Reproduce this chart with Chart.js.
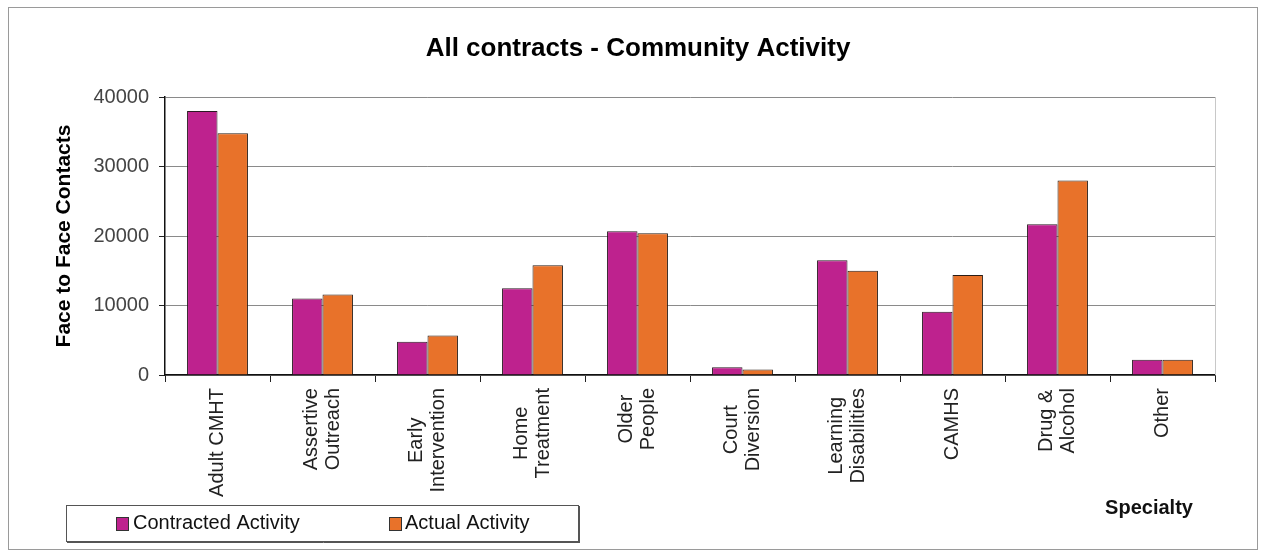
<!DOCTYPE html>
<html>
<head>
<meta charset="utf-8">
<script src="https://cdn.jsdelivr.net/npm/chart.js@4/dist/chart.umd.min.js"></script>
<style>
  html, body { margin: 0; padding: 0; background: #fff; }
  canvas { display: block; }
</style>
</head>
<body>
<canvas id="graf" width="1265" height="554"></canvas>
<script>
const specialties = [
    "Adult CMHT", ["Assertive", "Outreach"], ["Early", "Intervention"], ["Home", "Treatment"],
    ["Older", "People"], ["Court", "Diversion"], ["Learning", "Disabilities"], "CAMHS",
    ["Drug &", "Alcohol"], "Other"
];
const contracted = [38000, 11000, 4800, 12500, 20700, 1100, 16500, 9100, 21700, 2200];
const actual = [34800, 11600, 5700, 15800, 20400, 800, 15000, 14400, 28000, 2200];
const yTicks = [0, 10000, 20000, 30000, 40000];

const chartTitle = "All contracts - Community Activity";
const yTitle = "Face to Face Contacts";
const xTitle = "Specialty";

const FONT = "'Liberation Sans', Arial, sans-serif";

// frame, title, x labels, legend box
const extras = {
    id: "extras",
    afterDraw(chart) {
        const ctx = chart.ctx;
        const area = chart.chartArea;
        const x = chart.scales.x;
        ctx.save();

        // outer frame
        ctx.strokeStyle = "#9a9a9a";
        ctx.lineWidth = 1;
        ctx.strokeRect(8.5, 7.5, 1249, 542);

        // right edge of plot
        ctx.strokeStyle = "#c8c8c8";
        ctx.beginPath();
        ctx.moveTo(area.right + 0.5, area.top);
        ctx.lineTo(area.right + 0.5, area.bottom);
        ctx.stroke();

        // title
        ctx.fillStyle = "#000";
        ctx.font = "bold 26px " + FONT;
        ctx.textAlign = "center";
        ctx.textBaseline = "middle";
        ctx.fillText(chartTitle, 638, 49);

        // category labels, rotated, lines centred on each other
        ctx.font = "20px " + FONT;
        ctx.fillStyle = "#222";
        const lh = 22;
        specialties.forEach((lab, i) => {
            const lines = Array.isArray(lab) ? lab : [lab];
            const w = Math.max(...lines.map(l => ctx.measureText(l).width));
            const px = x.getPixelForValue(i);
            lines.forEach((line, j) => {
                const cx = px + (j - (lines.length - 1) / 2) * lh;
                ctx.save();
                ctx.translate(cx, area.bottom + 13 + w / 2);
                ctx.rotate(-Math.PI / 2);
                ctx.textAlign = "center";
                ctx.textBaseline = "middle";
                ctx.fillText(line, 0, 0);
                ctx.restore();
            });
        });

        // x axis title
        ctx.font = "bold 20px " + FONT;
        ctx.fillStyle = "#111";
        ctx.textAlign = "center";
        ctx.fillText(xTitle, 1149, 508);

        // legend
        ctx.strokeStyle = "#555";
        ctx.lineWidth = 1;
        ctx.strokeRect(66.5, 505.5, 512, 36);
        ctx.beginPath();
        ctx.moveTo(67, 542.5);
        ctx.lineTo(580, 542.5);
        ctx.moveTo(579.5, 506);
        ctx.lineTo(579.5, 543);
        ctx.stroke();
        const items = [[116, 133], [389, 405]];
        chart.data.datasets.forEach((ds, k) => {
            const [sx, tx] = items[k];
            ctx.fillStyle = ds.backgroundColor;
            ctx.fillRect(sx, 517, 12, 13);
            ctx.strokeStyle = "#333";
            ctx.strokeRect(sx + 0.5, 517.5, 12, 13);
            ctx.fillStyle = "#111";
            ctx.font = "20px " + FONT;
            ctx.textAlign = "left";
            ctx.textBaseline = "middle";
            ctx.fillText(ds.label, tx, 523);
        });

        ctx.restore();
    }
};

new Chart(document.getElementById("graf"), {
    type: "bar",
    data: {
        labels: specialties,
        datasets: [
            {
                label: "Contracted Activity",
                data: contracted,
                backgroundColor: "#be228e",
                borderColor: "#2a1a22",
                borderWidth: 1,
                categoryPercentage: 0.58,
                barPercentage: 1.0
            },
            {
                label: "Actual Activity",
                data: actual,
                backgroundColor: "#e8722a",
                borderColor: "#2a1d16",
                borderWidth: 1,
                categoryPercentage: 0.58,
                barPercentage: 1.0
            }
        ]
    },
    options: {
        responsive: false,
        animation: false,
        layout: { padding: { left: 10, right: 50, top: 97, bottom: 0 } },
        plugins: {
            legend: { display: false },
            title: { display: false },
            tooltip: { enabled: false }
        },
        scales: {
            x: {
                afterFit: s => { s.height = 179; },
                ticks: { display: false },
                grid: {
                    offset: true,
                    drawOnChartArea: false,
                    drawTicks: true,
                    tickLength: 7,
                    tickColor: "#222"
                },
                border: { color: "#111", width: 1.5 }
            },
            y: {
                min: 0,
                max: 40000,
                afterFit: s => { s.width = 155; },
                afterBuildTicks: s => { s.ticks = yTicks.map(v => ({ value: v })); },
                ticks: {
                    color: "#444",
                    padding: 10,
                    font: { family: FONT, size: 20 },
                    callback: v => String(v)
                },
                grid: {
                    color: "#8a8a8a",
                    lineWidth: 1,
                    tickLength: 6,
                    tickColor: "#222"
                },
                border: { color: "#111", width: 1.5 },
                title: {
                    display: true,
                    text: yTitle,
                    color: "#000",
                    font: { family: FONT, size: 21, weight: "bold" },
                    padding: { top: 42, bottom: 0 }
                }
            }
        }
    },
    plugins: [extras]
});
</script>
</body>
</html>
